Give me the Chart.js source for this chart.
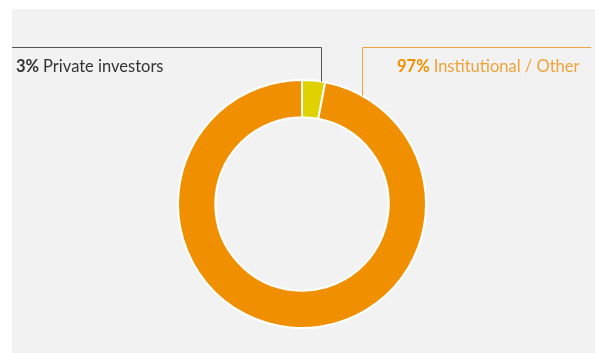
<!DOCTYPE html>
<html lang="en">
<head>
    <meta charset="UTF-8">
    <title>Shareholder structure</title>
    <script src="https://cdn.jsdelivr.net/npm/chart.js"></script>
    <style>
        html, body {
            margin: 0;
            padding: 0;
            background: #ffffff;
        }
        #wrap {
            position: relative;
            width: 595px;
            height: 353px;
        }
    </style>
</head>
<body>
    <div id="wrap">
        <canvas id="shareChart" width="595" height="353"></canvas>
    </div>

    <script>
        // Shareholder groups and their share in percent
        const groups = ["Private investors", "Institutional / Other"];
        const shares = [3, 97];
        const sliceColors = ["#e0d200", "#f09000"];
        const textColors = ["#333333", "#f0a23a"];
        const valueColors = ["#333333", "#f09000"];
        const lineColors = ["#555555", "#f3a43c"];

        const FONT = "Lato, 'Open Sans', sans-serif";

        // Grey panel behind the chart
        const panelPlugin = {
            id: "panel",
            beforeDraw(chart) {
                const ctx = chart.ctx;
                ctx.save();
                ctx.fillStyle = "#f2f2f2";
                ctx.fillRect(12, 9, chart.width - 12, chart.height - 9);
                ctx.restore();
            }
        };

        // Leader lines and labels above the ring
        const labelPlugin = {
            id: "labels",
            afterDraw(chart) {
                const ctx = chart.ctx;
                const arc = chart.getDatasetMeta(0).data[0];
                const cx = arc.x, cy = arc.y, r = arc.outerRadius;
                const lineY = 47.5;

                // where each leader drops onto the ring
                const drops = [cx + 19.5, cx + 60.5];
                const spans = [[12, drops[0]], [drops[1], chart.width - 4]];

                ctx.save();
                ctx.lineWidth = 1;
                drops.forEach((x, i) => {
                    const dx = x - cx;
                    const yEnd = cy - Math.sqrt(r * r - dx * dx);
                    ctx.strokeStyle = lineColors[i];
                    ctx.beginPath();
                    ctx.moveTo(spans[i][0], lineY);
                    ctx.lineTo(spans[i][1], lineY);
                    ctx.moveTo(x, lineY);
                    ctx.lineTo(x, yEnd);
                    ctx.stroke();
                });

                // label text: bold value followed by the group name
                const starts = [16, 397];
                ctx.textBaseline = "alphabetic";
                ctx.textAlign = "left";
                groups.forEach((name, i) => {
                    const value = shares[i] + "%";
                    ctx.font = "bold 16.5px " + FONT;
                    ctx.fillStyle = valueColors[i];
                    ctx.fillText(value, starts[i], 71.5);
                    const w = ctx.measureText(value + " ").width;
                    ctx.font = "16.5px " + FONT;
                    ctx.fillStyle = textColors[i];
                    ctx.fillText(name, starts[i] + w, 71.5);
                });
                ctx.restore();
            }
        };

        new Chart(document.getElementById("shareChart"), {
            type: "doughnut",
            data: {
                labels: groups,
                datasets: [{
                    data: shares,
                    backgroundColor: sliceColors,
                    borderColor: "#ffffff",
                    borderWidth: 2
                }]
            },
            options: {
                responsive: false,
                animation: false,
                events: [],
                radius: 124,
                cutout: 86,
                layout: {
                    padding: { left: 178, right: 169, top: 80, bottom: 25 }
                },
                plugins: {
                    legend: { display: false },
                    tooltip: { enabled: false }
                }
            },
            plugins: [panelPlugin, labelPlugin]
        });
    </script>
</body>
</html>
